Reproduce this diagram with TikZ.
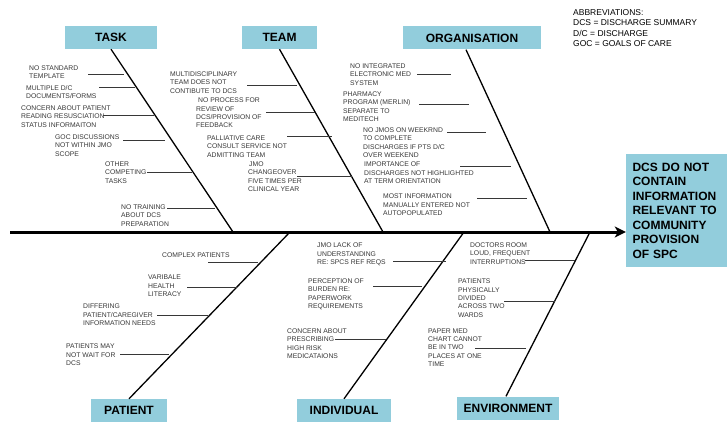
\documentclass[tikz,border=0pt]{standalone}
\usepackage{fontspec}
\setmainfont{Liberation Sans}
\usepackage{tikz}
\usetikzlibrary{arrows.meta}

\definecolor{boxblue}{RGB}{146,205,220}
\definecolor{causegray}{RGB}{55,55,55}

\begin{document}
\begin{tikzpicture}[x=1pt, y=-1pt,
		catbox/.style={fill=boxblue, minimum height=23pt, inner sep=0pt, font=\fontsize{12}{14}\selectfont\bfseries},
		cause/.style={anchor=north west, inner sep=0pt, align=left, text=causegray, font=\fontsize{6.8}{8.3}\selectfont},
		bone/.style={line width=1.3pt},
		twig/.style={line width=0.6pt, draw=causegray}]
		\useasboundingbox (0,0) rectangle (727,438);

		\node[catbox, minimum width=92pt] (task) at (111,37.5) {TASK};
		\node[catbox, minimum width=75pt] (team) at (279.5,37.5) {TEAM};
		\node[catbox, minimum width=138pt] (org) at (472,38) {ORGANISATION};
		\node[catbox, minimum width=76pt] (patient) at (129,410.5) {PATIENT};
		\node[catbox, minimum width=94pt] (indiv) at (344,410.5) {INDIVIDUAL};
		\node[catbox, minimum width=102pt] (env) at (508,408) {ENVIRONMENT};

		\node[catbox, minimum width=101pt, minimum height=113pt, inner xsep=6.5pt, text width=88pt, align=left, font=\fontsize{12}{14.5}\selectfont\bfseries] (head) at (676.5,210.5)
			{DCS DO NOT\\CONTAIN\\INFORMATION\\RELEVANT TO\\COMMUNITY\\PROVISION\\OF SPC};

		\node[anchor=north west, inner sep=0pt, align=left, font=\fontsize{8.5}{10.3}\selectfont] (abbr) at (573,9.5)
			{ABBREVIATIONS:\\DCS = DISCHARGE SUMMARY\\D/C = DISCHARGE\\GOC = GOALS OF CARE};

		% spine and bones
		\coordinate (tail) at (10,232);
		\coordinate (sTask) at (233,232);
		\coordinate (sTeam) at (383,232);
		\coordinate (sOrg) at (550,232);
		\coordinate (sPatient) at (290,232);
		\coordinate (sIndiv) at (464,232);
		\coordinate (sEnv) at (590,232);
		\draw[line width=3pt, -{Stealth[length=11pt, width=11pt, inset=3pt]}] (tail) -- (tail -| head.west);
		\draw[bone] (task.south) -- (sTask);
		\draw[bone] (team.south) -- (sTeam);
		\draw[bone] ([xshift=-6pt]org.south) -- (sOrg);
		\draw[bone] (patient.north) -- (sPatient);
		\draw[bone] (indiv.north) -- (sIndiv);
		\draw[bone] ([xshift=-2pt]env.north) -- (sEnv);

		% task
		\node[cause] (ta1) at (29,65.5) {NO STANDARD\\TEMPLATE};
		\node[cause] (ta2) at (26,85.5) {MULTIPLE D/C\\DOCUMENTS/FORMS};
		\node[cause] (ta3) at (21,105.5) {CONCERN ABOUT PATIENT\\READING RESUSCIATION\\STATUS INFORMAITON};
		\node[cause] (ta4) at (55,134.5) {GOC DISCUSSIONS\\NOT WITHIN JMO\\SCOPE};
		\node[cause] (ta5) at (105,161.5) {OTHER\\COMPETING\\TASKS};
		\node[cause] (ta6) at (121,204.5) {NO TRAINING\\ABOUT DCS\\PREPARATION};

		% team
		\node[cause] (te1) at (170,71.5) {MULTIDISCIPLINARY\\TEAM DOES NOT\\CONTIBUTE TO DCS};
		\node[cause] (te2) at (196,98) {\hspace*{2pt}NO PROCESS FOR\\REVIEW OF\\DCS/PROVISION OF\\FEEDBACK};
		\node[cause] (te3) at (207,135.5) {PALLIATIVE CARE\\CONSULT SERVICE NOT\\ADMITTING TEAM};
		\node[cause] (te4) at (248,161.5) {\hspace*{1pt}JMO\\CHANGEOVER\\FIVE TIMES PER\\CLINICAL YEAR};

		% organisation
		\node[cause] (or1) at (350,63.5) {NO INTEGRATED\\ELECTRONIC MED\\SYSTEM};
		\node[cause] (or2) at (343,91.5) {PHARMACY\\PROGRAM (MERLIN)\\SEPARATE TO\\MEDITECH};
		\node[cause] (or3) at (363,127.5) {NO JMOS ON WEEKRND\\TO COMPLETE\\DISCHARGES IF PTS D/C\\OVER WEEKEND};
		\node[cause] (or4) at (364,162) {IMPORTANCE OF\\DISCHARGES NOT HIGHLIGHTED\\AT TERM ORIENTATION};
		\node[cause] (or5) at (383,194) {MOST INFORMATION\\MANUALLY ENTERED NOT\\AUTOPOPULATED};

		% patient
		\node[cause] (pa1) at (162,252.5) {COMPLEX PATIENTS};
		\node[cause] (pa2) at (148,275) {VARIBALE\\HEALTH\\LITERACY};
		\node[cause] (pa3) at (83,304) {DIFFERING\\PATIENT/CAREGIVER\\INFORMATION NEEDS};
		\node[cause] (pa4) at (66,344) {PATIENTS MAY\\NOT WAIT FOR\\DCS};

		% individual
		\node[cause] (in1) at (317,243) {JMO LACK OF\\UNDERSTANDING\\RE: SPCS REF REQS};
		\node[cause] (in2) at (308,278.5) {PERCEPTION OF\\BURDEN RE:\\PAPERWORK\\REQUIREMENTS};
		\node[cause] (in3) at (287,328.5) {CONCERN ABOUT\\PRESCRIBING\\HIGH RISK\\MEDICATAIONS};

		% environment
		\node[cause] (en1) at (470,242.5) {DOCTORS ROOM\\LOUD, FREQUENT\\INTERRUPTIONS};
		\node[cause] (en2) at (458,279) {PATIENTS\\PHYSICALLY\\DIVIDED\\ACROSS TWO\\WARDS};
		\node[cause] (en3) at (428,328.5) {PAPER MED\\CHART CANNOT\\BE IN TWO\\PLACES AT ONE\\TIME};

		% twigs
		\foreach \a/\b/\y in {88/124/74, 99/135/87, 103/154/115, 123/165/140, 147/192/172, 167/215/208,
				247/297/85, 266/315/112, 287/332/136, 297/352/176,
				417/451/74, 419/469/104, 447/486/132, 460/511/166, 477/527/198,
				208/258/262, 187/237/287, 157/208/315, 120/169/354,
				393/446/261, 373/422/286, 335/386/339,
				525/575/260, 504/555/301, 475/526/348}
			\draw[twig] (\a,\y) -- (\b,\y);

	\end{tikzpicture}
\end{document}
